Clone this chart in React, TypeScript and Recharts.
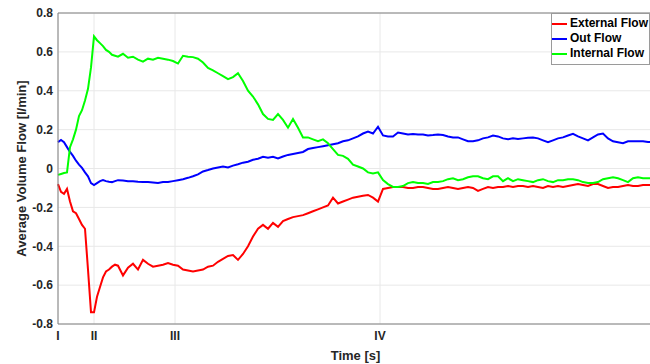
import {
  LineChart,
  Line,
  XAxis,
  YAxis,
  CartesianGrid,
  ReferenceLine,
  Legend,
} from "recharts";

// time samples (s)
const time = [
  0, 3, 6, 9, 12, 15, 18, 21, 24, 27, 30, 33, 36, 39, 42, 45, 48, 51, 54, 57, 60,
  65, 70, 75, 80, 85, 90, 95, 100, 105, 110,
  115, 120, 125, 130, 135, 140, 145, 150, 155, 160,
  165, 170, 175, 180, 185, 190, 195, 200, 205, 210,
  215, 220, 225, 230, 235, 240, 245, 250, 255, 260,
  265, 270, 275, 280, 285, 290, 295, 300, 305, 310,
  315, 320, 325, 330, 335, 340, 345, 350, 355, 360,
  365, 370, 375, 380, 385, 390, 395, 400, 405, 410,
  415, 420, 425, 430, 435, 440, 445, 450, 455, 460,
  465, 470, 475, 480, 485, 490, 495, 500, 505, 510,
  515, 520, 525, 530, 535, 540, 545, 550, 555, 560,
  565, 570, 575, 580, 585, 590, 595,
];

const externalFlow = [
  -0.08, -0.12, -0.13, -0.105, -0.17, -0.22, -0.23, -0.26, -0.29, -0.31,
  -0.52, -0.74, -0.74, -0.66, -0.61, -0.56, -0.53, -0.52, -0.505, -0.495, -0.5,
  -0.55, -0.51, -0.49, -0.52, -0.47, -0.49, -0.505, -0.5, -0.495, -0.486,
  -0.495, -0.5, -0.52, -0.525, -0.53, -0.525, -0.52, -0.505, -0.5, -0.48,
  -0.465, -0.45, -0.445, -0.47, -0.44, -0.4, -0.35, -0.31, -0.29, -0.31,
  -0.28, -0.3, -0.27, -0.26, -0.25, -0.245, -0.24, -0.23, -0.22, -0.21,
  -0.2, -0.19, -0.15, -0.18, -0.17, -0.16, -0.15, -0.145, -0.14, -0.136,
  -0.15, -0.17, -0.105, -0.1, -0.095, -0.095, -0.095, -0.1, -0.1, -0.095,
  -0.095, -0.1, -0.105, -0.105, -0.1, -0.095, -0.1, -0.105, -0.1, -0.095,
  -0.1, -0.115, -0.105, -0.095, -0.1, -0.095, -0.095, -0.09, -0.095, -0.09,
  -0.09, -0.095, -0.09, -0.095, -0.1, -0.09, -0.095, -0.09, -0.095, -0.09,
  -0.085, -0.08, -0.085, -0.09, -0.08, -0.08, -0.09, -0.1, -0.095, -0.095,
  -0.09, -0.085, -0.09, -0.09, -0.085, -0.085, -0.085,
];

const outFlow = [
  0.136, 0.147, 0.135, 0.11, 0.085, 0.065, 0.04, 0.02, 0.003, -0.02,
  -0.04, -0.075, -0.085, -0.075, -0.065, -0.06, -0.065, -0.068, -0.07, -0.065, -0.06,
  -0.062, -0.065, -0.065, -0.068, -0.07, -0.07, -0.072, -0.075, -0.07, -0.07,
  -0.065, -0.06, -0.055, -0.048, -0.04, -0.03, -0.015, -0.008, 0, 0.005,
  0.01, 0.005, 0.015, 0.022, 0.03, 0.035, 0.045, 0.05, 0.06, 0.055,
  0.06, 0.052, 0.062, 0.07, 0.075, 0.08, 0.085, 0.1, 0.105, 0.11,
  0.115, 0.12, 0.125, 0.13, 0.14, 0.145, 0.155, 0.165, 0.18, 0.19,
  0.18, 0.215, 0.17, 0.165, 0.165, 0.185, 0.18, 0.175, 0.178, 0.175,
  0.175, 0.17, 0.172, 0.175, 0.172, 0.165, 0.16, 0.16, 0.15, 0.14,
  0.14, 0.145, 0.155, 0.16, 0.17, 0.165, 0.155, 0.15, 0.155, 0.152,
  0.155, 0.158, 0.16, 0.155, 0.145, 0.135, 0.145, 0.155, 0.16, 0.17,
  0.178, 0.165, 0.155, 0.145, 0.16, 0.175, 0.18, 0.155, 0.14, 0.135,
  0.13, 0.14, 0.14, 0.14, 0.14, 0.136, 0.136,
];

const internalFlow = [
  -0.033, -0.028, -0.023, -0.02, 0.11, 0.15, 0.2, 0.27, 0.3, 0.35,
  0.41, 0.52, 0.68, 0.66, 0.645, 0.63, 0.61, 0.6, 0.585, 0.58, 0.575,
  0.59, 0.57, 0.575, 0.56, 0.55, 0.565, 0.56, 0.57, 0.565, 0.56,
  0.553, 0.54, 0.58, 0.575, 0.573, 0.565, 0.545, 0.517, 0.505, 0.49,
  0.475, 0.46, 0.47, 0.49, 0.45, 0.4, 0.37, 0.33, 0.28, 0.255,
  0.25, 0.28, 0.25, 0.21, 0.255, 0.21, 0.16, 0.16, 0.15, 0.14,
  0.15, 0.13, 0.1, 0.07, 0.065, 0.05, 0.02, 0.01, 0, -0.02,
  -0.025, -0.02, -0.06, -0.08, -0.095, -0.095, -0.09, -0.075, -0.07, -0.075,
  -0.075, -0.08, -0.07, -0.07, -0.065, -0.055, -0.05, -0.06, -0.055, -0.045,
  -0.04, -0.04, -0.05, -0.055, -0.04, -0.04, -0.065, -0.05, -0.065, -0.055,
  -0.06, -0.065, -0.07, -0.06, -0.055, -0.065, -0.07, -0.06, -0.06, -0.055,
  -0.055, -0.06, -0.07, -0.075, -0.075, -0.07, -0.055, -0.05, -0.045, -0.05,
  -0.06, -0.07, -0.05, -0.045, -0.05, -0.05, -0.05,
];

// phase markers on the time axis
const phaseTicks = [0, 36, 117, 322];
const phaseLabels = ["I", "II", "III", "IV"];
const yTicks = [0.8, 0.6, 0.4, 0.2, 0, -0.2, -0.4, -0.6, -0.8];

const series = [
  { key: "external", name: "External Flow", color: "#ff0000" },
  { key: "out", name: "Out Flow", color: "#0000ff" },
  { key: "internal", name: "Internal Flow", color: "#00ff00" },
];

const data = time.map((t, i) => ({
  t,
  external: externalFlow[i],
  out: outFlow[i],
  internal: internalFlow[i],
}));

const FONT = "'Liberation Sans', Arial, Helvetica, sans-serif";
const AXIS = "#808080";
const TEXT = "#262626";

function LegendBox() {
  return (
    <div
      style={{
        border: "1px solid #9a9a9a",
        background: "#fff",
        padding: "2px 1px 3px 0",
        fontFamily: FONT,
        fontWeight: "bold",
        fontSize: 12,
        color: "#000",
        lineHeight: "15px",
      }}
    >
      {series.map((s) => (
        <div key={s.key} style={{ display: "flex", alignItems: "center", whiteSpace: "nowrap" }}>
          <span style={{ display: "inline-block", width: 15, height: 2, background: s.color, marginRight: 3 }} />
          {s.name}
        </div>
      ))}
    </div>
  );
}

export default function App() {
  return (
    <div
      style={{
        position: "absolute",
        left: 0,
        top: 0,
        width: 650,
        height: 364,
        overflow: "hidden",
        background: "#fff",
      }}
    >
      <LineChart
        width={680}
        height={364}
        data={data}
        margin={{ top: 13, right: 27, bottom: 0, left: 0 }}
        style={{ fontFamily: FONT }}
      >
        <CartesianGrid stroke="#e8e8e8" horizontalValues={yTicks} verticalValues={phaseTicks} />
        <XAxis
          dataKey="t"
          type="number"
          domain={[0, 595]}
          ticks={phaseTicks}
          tickFormatter={(v: number) => phaseLabels[phaseTicks.indexOf(v)] ?? ""}
          height={40}
          tickSize={0}
          tickMargin={7}
          stroke={AXIS}
          tick={{ fill: TEXT, fontSize: 12, fontWeight: "bold" }}
          label={{
            value: "Time [s]",
            position: "insideBottom",
            offset: 4,
            style: { fill: TEXT, fontSize: 13, fontWeight: "bold" },
          }}
        />
        <YAxis
          type="number"
          domain={[-0.8, 0.8]}
          ticks={yTicks}
          width={58}
          tickSize={0}
          tickMargin={5}
          stroke={AXIS}
          tick={{ fill: TEXT, fontSize: 12, fontWeight: "bold" }}
          tickFormatter={(v: number) => String(v)}
          label={{
            value: "Average Volume Flow [l/min]",
            angle: -90,
            position: "insideLeft",
            offset: 21,
            style: { textAnchor: "middle", fill: TEXT, fontSize: 13, fontWeight: "bold" },
          }}
        />
        <ReferenceLine y={0.8} stroke={AXIS} />
        <ReferenceLine x={595} stroke={AXIS} />
        {series.map((s) => (
          <Line
            key={s.key}
            type="linear"
            dataKey={s.key}
            name={s.name}
            stroke={s.color}
            strokeWidth={2}
            dot={false}
            isAnimationActive={false}
          />
        ))}
        <Legend
          layout="horizontal"
          verticalAlign="middle"
          align="center"
          content={() => <LegendBox />}
          wrapperStyle={{ left: 551, top: 13, width: "auto" }}
        />
      </LineChart>
    </div>
  );
}
